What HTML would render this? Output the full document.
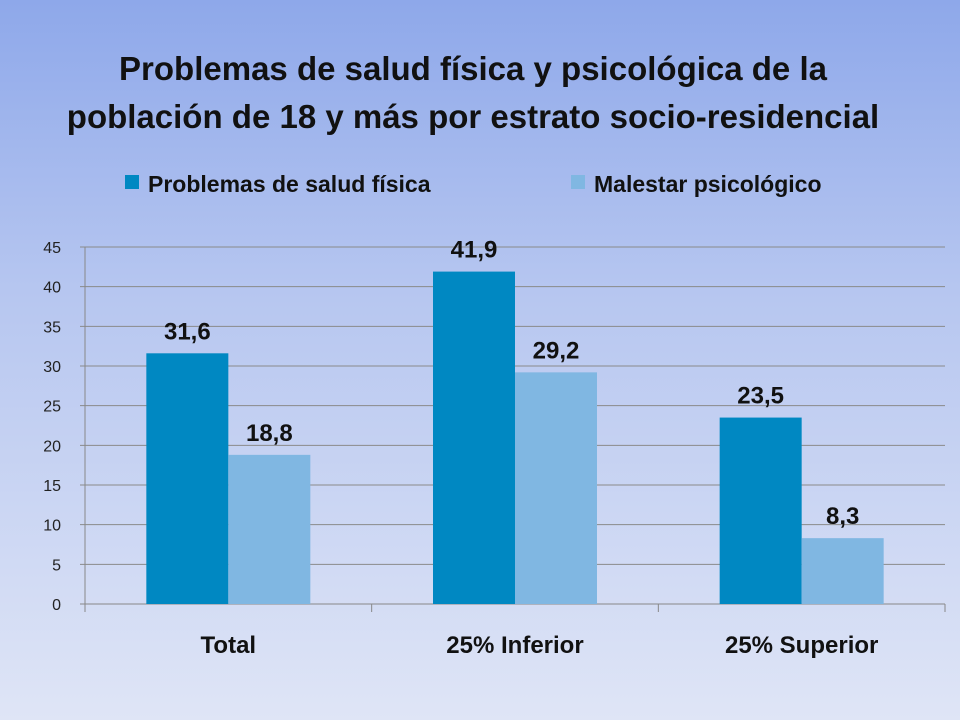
<!DOCTYPE html>
<html><head><meta charset="utf-8"><style>
body{margin:0;width:960px;height:720px;overflow:hidden;font-family:"Liberation Sans",sans-serif;}
#bg{position:absolute;left:0;top:0;width:960px;height:720px;background:linear-gradient(#8ea8ea,#b6c6f0 40%,#dfe5f6);}
</style></head><body>
<div id="bg"></div>
<svg id="chart" width="960" height="720" style="position:absolute;left:0;top:0">
<text x="473" y="80" text-anchor="middle" font-size="33" font-weight="bold" fill="#111">Problemas de salud física y psicológica de la</text>
<text x="473" y="128" text-anchor="middle" font-size="33" font-weight="bold" fill="#111">población de 18 y más por estrato socio-residencial</text>
<g>
<rect x="125" y="175" width="14" height="14" fill="#0088c2"/>
<text x="148" y="192" font-size="23" font-weight="bold" fill="#111">Problemas de salud física</text>
<rect x="571" y="175" width="14" height="14" fill="#80b7e2"/>
<text x="594" y="192" font-size="23" font-weight="bold" fill="#111">Malestar psicológico</text>
</g>
<g id="plot"></g>
</svg>
<script>
const categories=["Total","25% Inferior","25% Superior"];
const fisica=[31.6,41.9,23.5];
const psico=[18.8,29.2,8.3];
const yTicks=[0,5,10,15,20,25,30,35,40,45];
const x0=85,x1=945,y0=604,y1=247,yMax=45;
const y=v=>y0-(v/yMax)*(y0-y1);
const bw=(x1-x0)/categories.length;
const g=document.getElementById('plot');
const NS="http://www.w3.org/2000/svg";
function mk(t,a){const e=document.createElementNS(NS,t);for(const k in a)e.setAttribute(k,a[k]);g.appendChild(e);return e;}
yTicks.forEach(t=>{
 const l=mk('line',{x1:x0-5,x2:x1,y1:y(t),y2:y(t),stroke:t===0?'#888':'#8a8a8a','stroke-width':1});
 
 
 const tx=mk('text',{x:x0-24,y:y(t)+6,'text-anchor':'end','font-size':16,fill:'#222'});
 tx.textContent=t;
 
 
});
const ax=mk('line',{x1:x0,x2:x0,y1:y1,y2:y0,stroke:'#888'});


for(let i=0;i<=categories.length;i++){
 const t=mk('line',{x1:x0+i*bw,x2:x0+i*bw,y1:y0,y2:y0+8,stroke:'#888'});
 
 
}
const barW=82;
categories.forEach((c,i)=>{
 const cx=x0+bw*(i+0.5);
 [[fisica[i],'#0088c2',cx-barW,'fisica'],[psico[i],'#80b7e2',cx,'psicologico']].forEach(([v,col,bx,nm])=>{
  const r=mk('rect',{x:bx,y:y(v),width:barW,height:y0-y(v),fill:col});
  
  
  const lb=mk('text',{x:bx+barW/2,y:y(v)-14,'text-anchor':'middle','font-size':24,'font-weight':'bold',fill:'#111'});
  lb.textContent=String(v).replace('.',',');
  
  
 });
 const cl=mk('text',{x:cx,y:653,'text-anchor':'middle','font-size':24,'font-weight':'bold',fill:'#111'});
 cl.textContent=c;
 
 
});
</script>
</body></html>
